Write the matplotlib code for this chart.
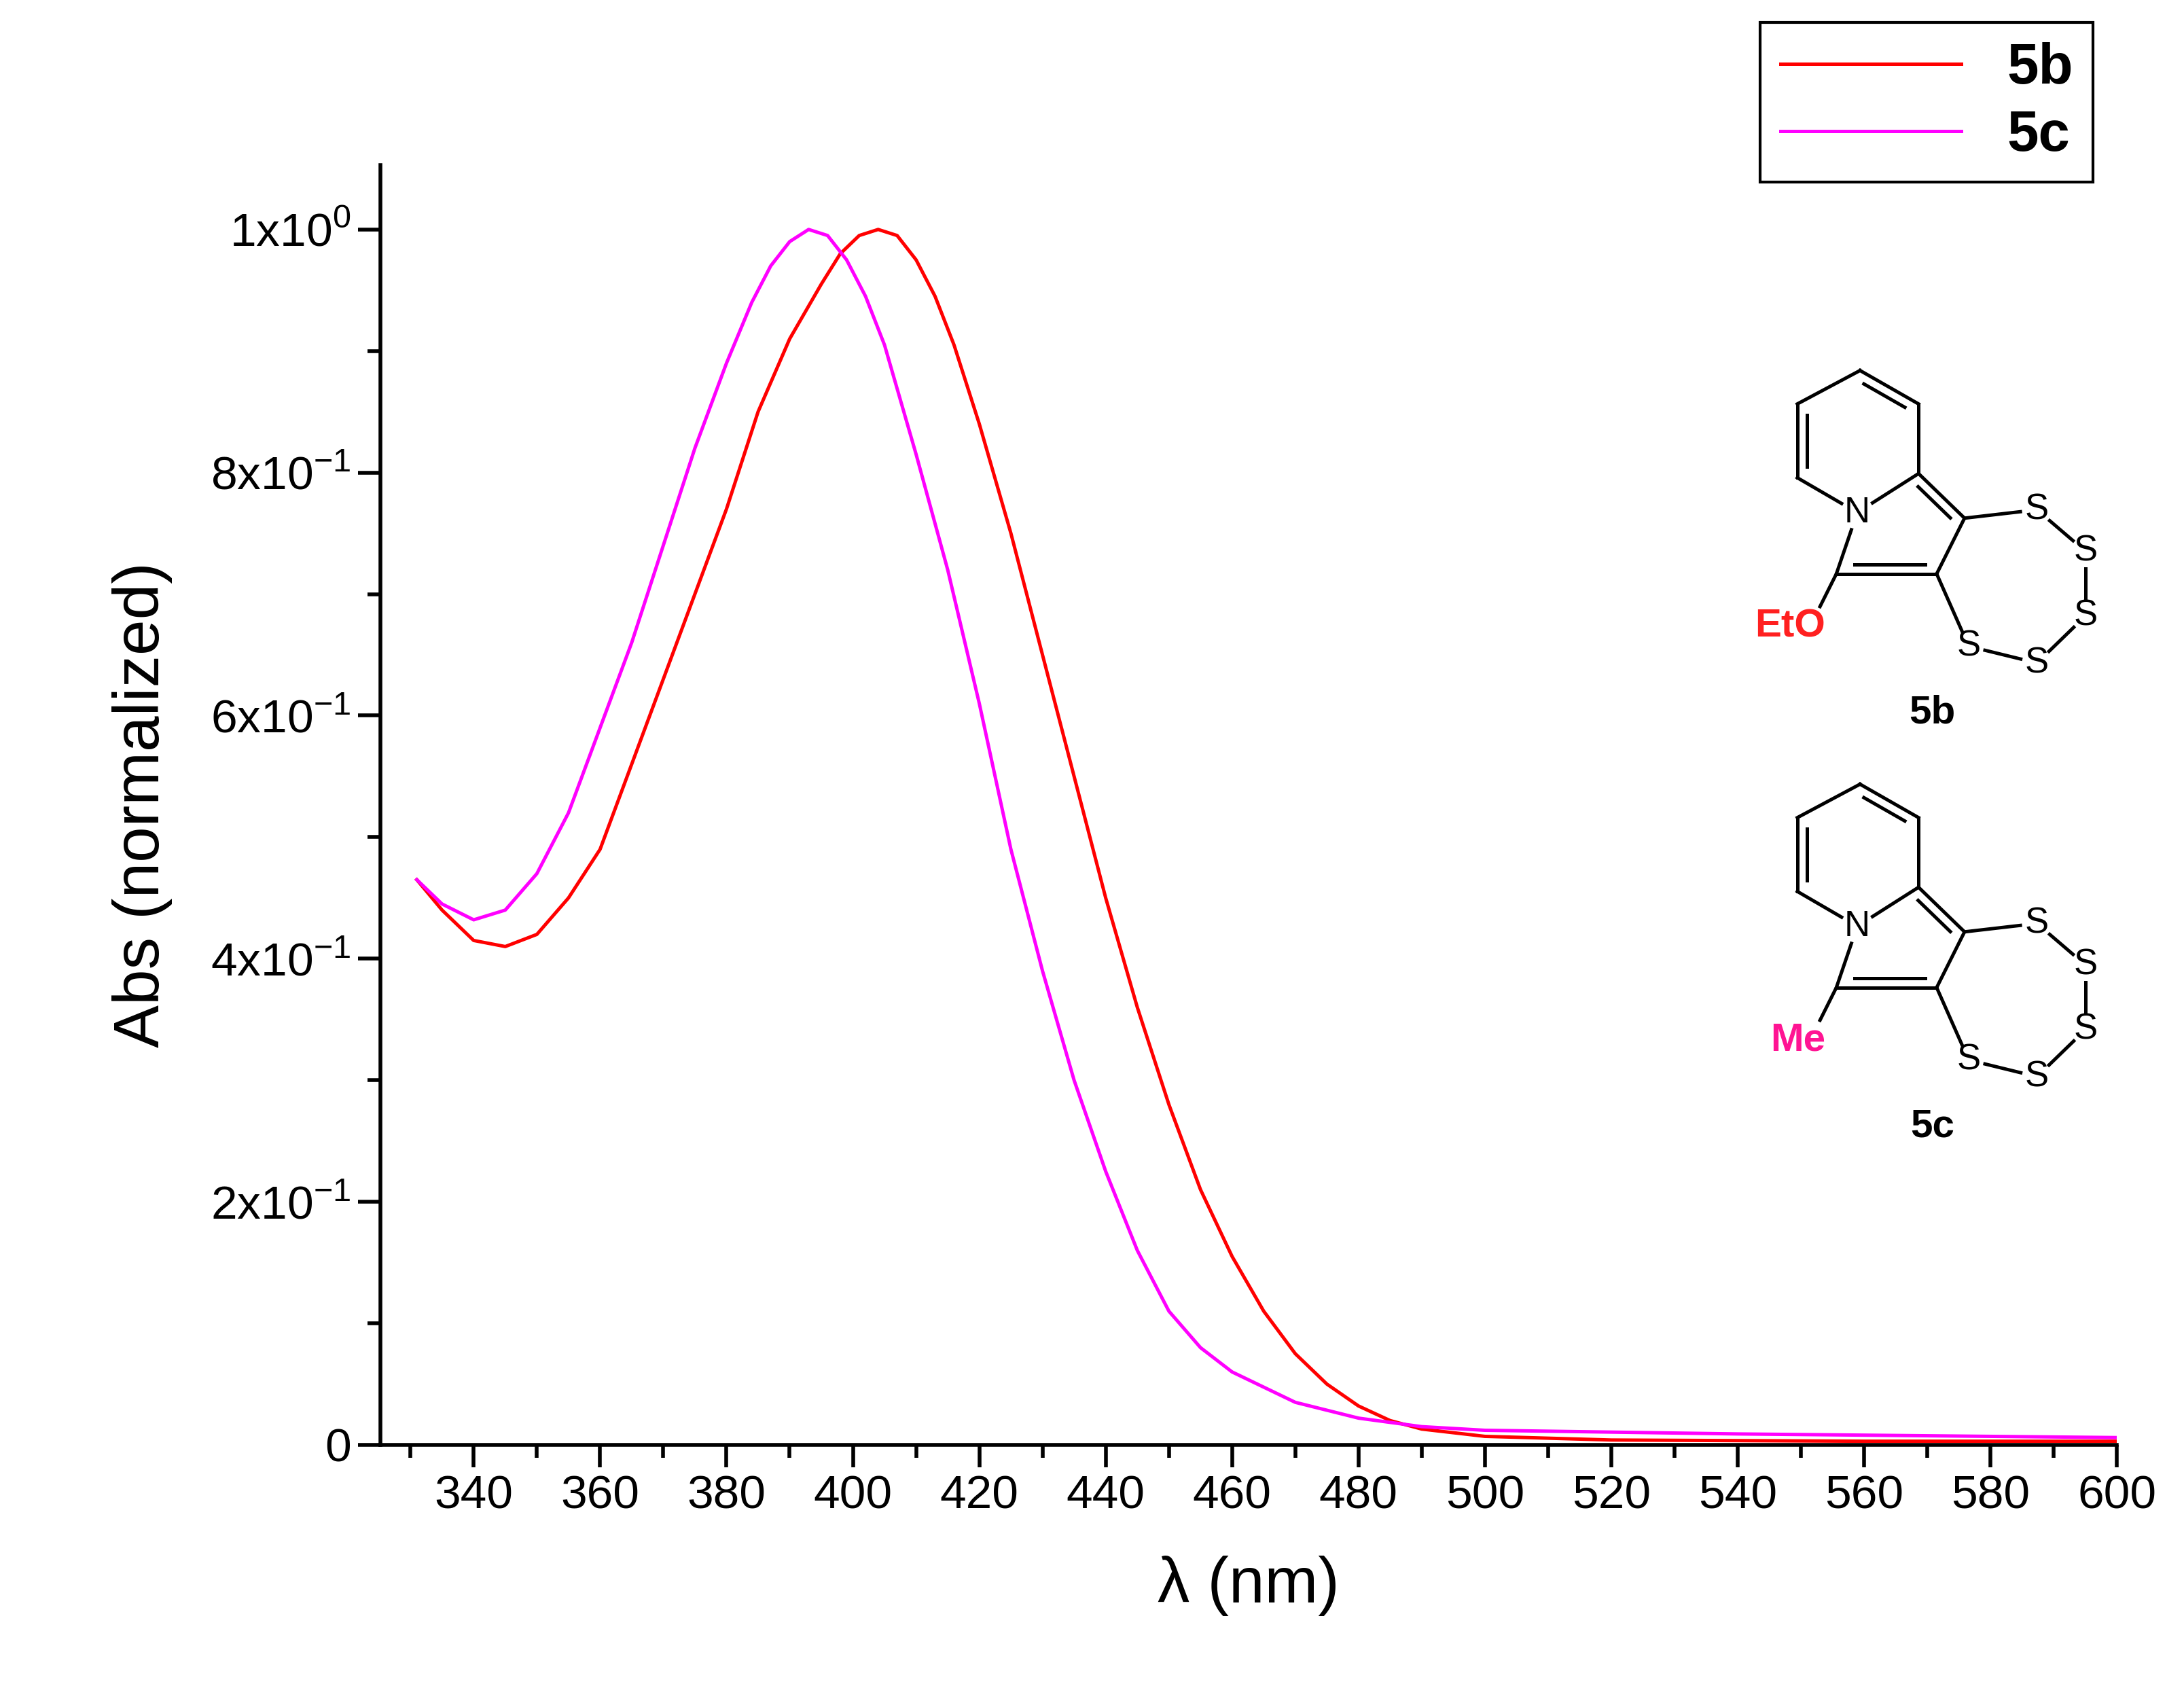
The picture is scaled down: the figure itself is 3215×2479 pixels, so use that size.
import matplotlib.pyplot as plt
import numpy as np
from matplotlib.ticker import MultipleLocator, FixedLocator

wl_5b = [331, 335, 340, 345, 350, 355, 360, 365, 370, 375, 380, 385, 390, 395, 398, 401, 404,
         407, 410, 413, 416, 420, 425, 430, 435, 440, 445, 450, 455, 460, 465, 470, 475, 480,
         485, 490, 500, 520, 560, 600]
abs_5b = [0.465, 0.44, 0.415, 0.41, 0.42, 0.45, 0.49, 0.56, 0.63, 0.70, 0.77, 0.85, 0.91, 0.955,
          0.98, 0.995, 1.0, 0.995, 0.975, 0.945, 0.905, 0.84, 0.75, 0.65, 0.55, 0.45, 0.36,
          0.28, 0.21, 0.155, 0.11, 0.075, 0.05, 0.032, 0.02, 0.013, 0.007, 0.004, 0.003, 0.003]
wl_5c = [331, 335, 340, 345, 350, 355, 360, 365, 370, 375, 380, 384, 387, 390, 393, 396, 399,
         402, 405, 410, 415, 420, 425, 430, 435, 440, 445, 450, 455, 460, 470, 480, 490, 500,
         540, 600]
abs_5c = [0.465, 0.445, 0.432, 0.44, 0.47, 0.52, 0.59, 0.66, 0.74, 0.82, 0.89, 0.94, 0.97, 0.99,
          1.0, 0.995, 0.975, 0.945, 0.905, 0.815, 0.72, 0.61, 0.49, 0.39, 0.30, 0.225, 0.16,
          0.11, 0.08, 0.06, 0.035, 0.022, 0.015, 0.012, 0.009, 0.006]

y_ticks = [0, 0.2, 0.4, 0.6, 0.8, 1.0]
y_labels = ["0", "2x10$^{\\mathrm{-1}}$", "4x10$^{\\mathrm{-1}}$", "6x10$^{\\mathrm{-1}}$",
            "8x10$^{\\mathrm{-1}}$", "1x10$^{\\mathrm{0}}$"]

plt.rcParams["font.family"] = ["Liberation Sans", "DejaVu Sans"]
plt.rcParams["mathtext.fontset"] = "custom"
plt.rcParams["mathtext.rm"] = "Liberation Sans"
plt.rcParams["axes.unicode_minus"] = False
fig = plt.figure(figsize=(16.08, 12.395), dpi=200)
ax = fig.add_axes([0.174, 0.142, 0.795, 0.760])
l1, = ax.plot(wl_5b, abs_5b, color="#ff0000", lw=1.8)
l2, = ax.plot(wl_5c, abs_5c, color="#ff00ff", lw=1.8)
ax.set_xlim(325.2, 600)
ax.set_ylim(0, 1.053)
ax.xaxis.set_major_locator(FixedLocator(range(340, 601, 20)))
ax.xaxis.set_minor_locator(MultipleLocator(10))
ax.set_yticks(y_ticks)
ax.set_yticklabels(y_labels)
ax.yaxis.set_minor_locator(MultipleLocator(0.1))
for s in ["top", "right"]:
    ax.spines[s].set_visible(False)
for s in ["left", "bottom"]:
    ax.spines[s].set_linewidth(2)
ax.tick_params(which="major", direction="out", length=12, width=2, labelsize=25)
ax.tick_params(which="minor", direction="out", length=7, width=2)
ax.set_xlabel("λ (nm)", fontsize=34, labelpad=20)
ax.set_ylabel("Abs (normalized)", fontsize=34, labelpad=20)

leg = fig.legend([l1, l2], ["5b", "5c"], loc="upper right",
                 bbox_to_anchor=(1502 / 1568, 1 - 16 / 1209), fancybox=False,
                 edgecolor="black", framealpha=1, handlelength=3.2, borderaxespad=0,
                 labelspacing=0.25, borderpad=0.35, handletextpad=0.8,
                 prop={"weight": "bold", "size": 30})
leg.get_frame().set_linewidth(1.5)

# structures drawn in pixel coordinates of a 1568x1209 canvas
ov = fig.add_axes([0, 0, 1, 1])
ov.set_xlim(0, 1568)
ov.set_ylim(1209, 0)
ov.axis("off")


def draw_struct(dy, sub, sub_color, label):
    P = {
        "a1": (1335, 266), "a2": (1377, 290), "a3": (1377, 340), "N": (1333, 368),
        "a5": (1290, 343), "a6": (1290, 290), "c3": (1410, 372), "c2": (1390, 412),
        "c1": (1318, 412), "S1": (1462, 366), "S2": (1497, 396), "S3": (1497, 442),
        "S4": (1462, 476), "S5": (1413, 464), "O": (1300, 448),
    }
    P = {k: (x, y + dy) for k, (x, y) in P.items()}
    labeled = {"N": 13, "S1": 12, "S2": 12, "S3": 12, "S4": 12, "S5": 12, "O": 14}
    bonds = [("a1", "a2"), ("a2", "a3"), ("a3", "N"), ("N", "a5"), ("a5", "a6"), ("a6", "a1"),
             ("a3", "c3"), ("c3", "c2"), ("c2", "c1"), ("c1", "N"), ("c3", "S1"), ("S1", "S2"),
             ("S2", "S3"), ("S3", "S4"), ("S4", "S5"), ("S5", "c2"), ("c1", "O")]
    doubles = [("a1", "a2", "hex"), ("a5", "a6", "hex"), ("a3", "c3", "pent"), ("c2", "c1", "pent")]
    hexc = np.mean([P[k] for k in ["a1", "a2", "a3", "N", "a5", "a6"]], axis=0)
    pentc = np.mean([P[k] for k in ["a3", "c3", "c2", "c1", "N"]], axis=0)
    for a, b in bonds:
        p, q = np.array(P[a], float), np.array(P[b], float)
        d = (q - p) / np.linalg.norm(q - p)
        p2 = p + d * labeled.get(a, 0)
        q2 = q - d * labeled.get(b, 0)
        ov.plot([p2[0], q2[0]], [p2[1], q2[1]], color="black", lw=1.8)
    for a, b, ring in doubles:
        c = hexc if ring == "hex" else pentc
        p, q = np.array(P[a], float), np.array(P[b], float)
        mid = (p + q) / 2
        v = c - mid
        v = v / np.linalg.norm(v) * 7
        d = (q - p) * 0.15
        ov.plot([p[0] + d[0] + v[0], q[0] - d[0] + v[0]],
                [p[1] + d[1] + v[1], q[1] - d[1] + v[1]], color="black", lw=1.8)
    for k in ["S1", "S2", "S3", "S4", "S5"]:
        ov.text(*P[k], "S", ha="center", va="center", fontsize=19)
    ov.text(*P["N"], "N", ha="center", va="center", fontsize=19)
    ox, oy = P["O"]
    ov.text(ox + 10, oy + 2, sub, ha="right", va="center", fontsize=21,
            fontweight="bold", color=sub_color)
    ov.text(1387, 512 + dy, label, ha="center", va="center", fontsize=21, fontweight="bold")


draw_struct(0, "EtO", "#ff2020", "5b")
draw_struct(297, "Me", "#ff1493", "5c")

fig.savefig("out.png", dpi=200)
